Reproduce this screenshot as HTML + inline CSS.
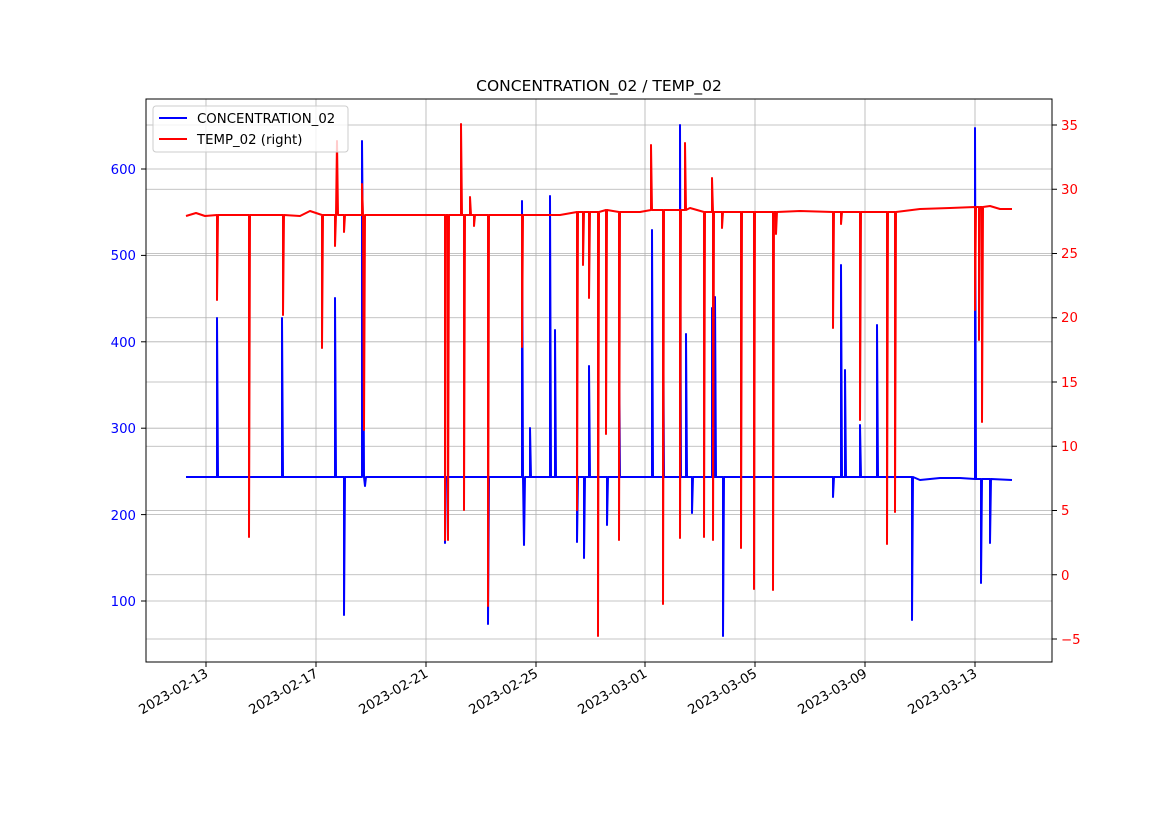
<!DOCTYPE html>
<html><head><meta charset="utf-8"><style>
body{margin:0;background:#fff;}
svg{display:block;font-family:"DejaVu Sans","Liberation Sans",sans-serif;}
</style></head><body>
<svg width="1169" height="827" viewBox="0 0 1169 827" xmlns="http://www.w3.org/2000/svg">
<rect width="1169" height="827" fill="#fff"/>
<g stroke="#b0b0b0" stroke-width="0.8" fill="none">
<line x1="206" y1="99" x2="206" y2="662"/><line x1="316" y1="99" x2="316" y2="662"/>
<line x1="426" y1="99" x2="426" y2="662"/><line x1="536" y1="99" x2="536" y2="662"/>
<line x1="645" y1="99" x2="645" y2="662"/><line x1="755" y1="99" x2="755" y2="662"/>
<line x1="865" y1="99" x2="865" y2="662"/><line x1="975" y1="99" x2="975" y2="662"/>
<line x1="146" y1="169" x2="1052" y2="169"/><line x1="146" y1="255.4" x2="1052" y2="255.4"/>
<line x1="146" y1="341.8" x2="1052" y2="341.8"/><line x1="146" y1="428.2" x2="1052" y2="428.2"/>
<line x1="146" y1="514.6" x2="1052" y2="514.6"/><line x1="146" y1="601" x2="1052" y2="601"/>
<line x1="146" y1="125" x2="1052" y2="125"/><line x1="146" y1="189.25" x2="1052" y2="189.25"/>
<line x1="146" y1="253.5" x2="1052" y2="253.5"/><line x1="146" y1="317.75" x2="1052" y2="317.75"/>
<line x1="146" y1="382" x2="1052" y2="382"/><line x1="146" y1="446.25" x2="1052" y2="446.25"/>
<line x1="146" y1="510.5" x2="1052" y2="510.5"/><line x1="146" y1="574.75" x2="1052" y2="574.75"/>
<line x1="146" y1="639" x2="1052" y2="639"/>
</g>
<path fill="none" stroke="#0000ff" stroke-width="2" stroke-linejoin="round" d="M186,477 L217,477 L217,318 L218,477 L282,477 L282,318 L283,477 L335,477 L335,298 L336,477 L344,477 L344,615 L345,477 L362,477 L362,141 L363,255 L364,477 L365,486 L366,477 L445,477 L445,543 L446,477 L488,477 L488,624 L489,477 L522,477 L522,201 L523,477 L524,545 L525,477 L530,477 L530,428 L531,477 L550,477 L550,196 L551,477 L555,477 L555,330 L556,477 L577,477 L577,542 L578,477 L584,477 L584,558 L585,477 L589,477 L589,366 L590,477 L607,477 L607,525 L608,477 L619,477 L619,330 L620,477 L652,477 L652,230 L653,477 L663,477 L663,264 L664,477 L680,477 L680,125 L681,477 L686,477 L686,334 L687,477 L692,477 L692,513 L693,477 L712,477 L712,308 L713,477 L715,477 L715,297 L716,477 L723,477 L723,636 L724,477 L833,477 L833,497 L834,477 L841,477 L841,265 L842,477 L845,477 L845,370 L846,477 L860,477 L860,425 L861,477 L877,477 L877,325 L878,477 L912,477 L912,620 L913,477 L920,480 L940,478 L960,478 L975,479 L975,128 L976,479 L981,479 L981,583 L982,479 L990,479 L990,543 L991,479 L1012,480"/>
<path fill="none" stroke="#ff0000" stroke-width="2" stroke-linejoin="round" d="M186,216 L196,213 L205,216 L217,215 L217,300 L218,215 L230,215 L249,215 L249,537 L250,215 L283,215 L283,315 L284,215 L300,216 L310,211 L322,215 L322,348 L323,215 L335,215 L335,246 L336,215 L337,141 L338,215 L344,215 L344,232 L345,215 L362,215 L362,184 L363,215 L364,430 L365,215 L400,215 L445,215 L445,540 L446,215 L448,215 L448,540 L449,215 L461,215 L461,124 L462,215 L464,215 L464,510 L465,215 L470,215 L470,197 L471,215 L474,215 L474,226 L475,215 L488,215 L488,606 L489,215 L522,215 L522,347 L523,215 L560,215 L577,212 L577,510 L578,212 L583,212 L583,265 L584,212 L589,212 L589,298 L590,212 L598,212 L598,636 L599,212 L606,210 L606,434 L607,210 L619,212 L619,540 L620,212 L640,212 L651,210 L651,145 L652,210 L663,210 L663,604 L664,210 L680,210 L680,538 L681,210 L685,210 L685,143 L686,210 L690,208 L704,212 L704,537 L705,212 L712,212 L712,178 L713,212 L713,540 L714,212 L722,212 L722,228 L723,212 L741,212 L741,548 L742,212 L754,212 L754,589 L755,212 L773,212 L773,590 L774,212 L776,212 L776,234 L777,212 L800,211 L833,212 L833,328 L834,212 L841,212 L841,224 L842,212 L860,212 L860,420 L861,212 L887,212 L887,544 L888,212 L895,212 L895,512 L896,212 L920,209 L950,208 L975,207 L975,310 L976,207 L979,207 L979,340 L980,207 L982,207 L982,422 L983,207 L990,206 L1000,209 L1012,209"/>
<rect x="146" y="99" width="906" height="563" fill="none" stroke="#000" stroke-width="1"/>
<text x="599" y="91" font-size="15.5" text-anchor="middle">CONCENTRATION_02 / TEMP_02</text>
<g font-size="13.3" fill="#0000ff" text-anchor="end">
<text x="136" y="174">600</text><text x="136" y="260">500</text><text x="136" y="347">400</text>
<text x="136" y="433">300</text><text x="136" y="520">200</text><text x="136" y="606">100</text>
</g>
<g stroke="#000"><line x1="141" y1="169" x2="146" y2="169"/><line x1="141" y1="255.4" x2="146" y2="255.4"/><line x1="141" y1="341.8" x2="146" y2="341.8"/><line x1="141" y1="428.2" x2="146" y2="428.2"/><line x1="141" y1="514.6" x2="146" y2="514.6"/><line x1="141" y1="601" x2="146" y2="601"/>
<line x1="1052" y1="125" x2="1057" y2="125"/><line x1="1052" y1="189.25" x2="1057" y2="189.25"/><line x1="1052" y1="253.5" x2="1057" y2="253.5"/><line x1="1052" y1="317.75" x2="1057" y2="317.75"/><line x1="1052" y1="382" x2="1057" y2="382"/><line x1="1052" y1="446.25" x2="1057" y2="446.25"/><line x1="1052" y1="510.5" x2="1057" y2="510.5"/><line x1="1052" y1="574.75" x2="1057" y2="574.75"/><line x1="1052" y1="639" x2="1057" y2="639"/>
<line x1="206" y1="662" x2="206" y2="667"/><line x1="316" y1="662" x2="316" y2="667"/><line x1="426" y1="662" x2="426" y2="667"/><line x1="536" y1="662" x2="536" y2="667"/><line x1="645" y1="662" x2="645" y2="667"/><line x1="755" y1="662" x2="755" y2="667"/><line x1="865" y1="662" x2="865" y2="667"/><line x1="975" y1="662" x2="975" y2="667"/></g>
<g font-size="13.3" fill="#ff0000">
<text x="1061" y="130">35</text><text x="1061" y="194">30</text><text x="1061" y="258">25</text>
<text x="1061" y="322">20</text><text x="1061" y="387">15</text><text x="1061" y="451">10</text>
<text x="1061" y="515">5</text><text x="1061" y="580">0</text><text x="1061" y="644">−5</text>
</g>
<g font-size="13.3" text-anchor="end">
<text transform="translate(209,676) rotate(-30)">2023-02-13</text>
<text transform="translate(319,676) rotate(-30)">2023-02-17</text>
<text transform="translate(429,676) rotate(-30)">2023-02-21</text>
<text transform="translate(539,676) rotate(-30)">2023-02-25</text>
<text transform="translate(648,676) rotate(-30)">2023-03-01</text>
<text transform="translate(758,676) rotate(-30)">2023-03-05</text>
<text transform="translate(868,676) rotate(-30)">2023-03-09</text>
<text transform="translate(978,676) rotate(-30)">2023-03-13</text>
</g>
<rect x="153" y="106" width="195" height="46" rx="3" fill="#fff" fill-opacity="0.8" stroke="#ccc"/>
<line x1="159" y1="118" x2="187" y2="118" stroke="#0000ff" stroke-width="2"/>
<text x="197" y="123" font-size="13.3">CONCENTRATION_02</text>
<line x1="159" y1="139" x2="187" y2="139" stroke="#ff0000" stroke-width="2"/>
<text x="197" y="144" font-size="13.3">TEMP_02 (right)</text>
</svg>
</body></html>
